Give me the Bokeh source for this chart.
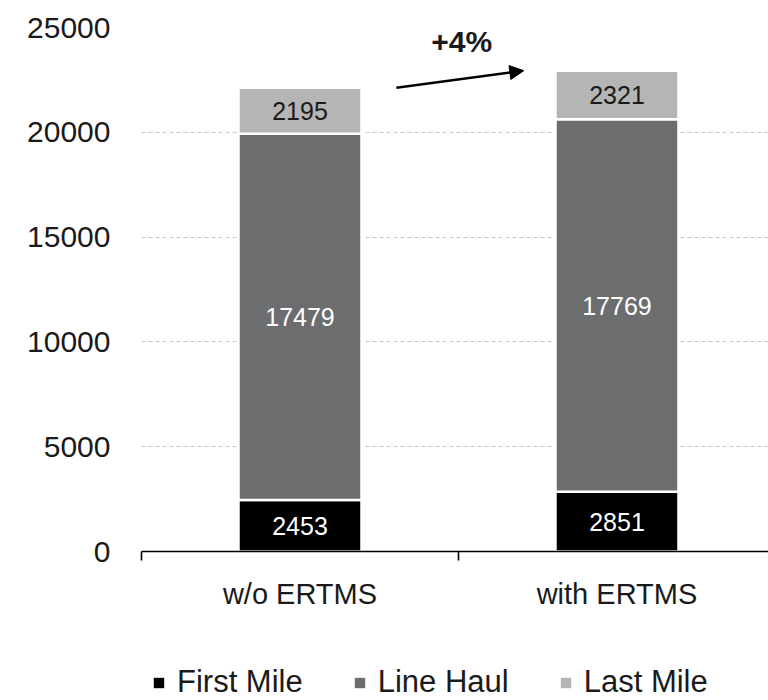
from bokeh.plotting import figure
from bokeh.layouts import column
from bokeh.models import (ColumnDataSource, FixedTicker, Range1d, Legend, LegendItem,
                          Arrow, NormalHead, Label)
from bokeh.core.properties import value
from bokeh.embed import file_html
from bokeh.resources import INLINE

# ---- data ----
categories = ["w/o ERTMS", "with ERTMS"]
first_mile = [2453, 2851]
line_haul = [17479, 17769]
last_mile = [2195, 2321]
series_names = ["First Mile", "Line Haul", "Last Mile"]
y_ticks = [0, 5000, 10000, 15000, 20000, 25000]

colors = ["#000000", "#6c6d6f", "#b5b5b5"]
label_colors = ["white", "white", "#1a1a1a"]
FONT = "Liberation Sans"

xs = list(range(len(categories)))
totals = [a + b + c for a, b, c in zip(first_mile, line_haul, last_mile)]

src = ColumnDataSource(dict(x=xs, first=first_mile, line=line_haul, last=last_mile))

p = figure(width=768, height=650, output_backend="svg", toolbar_location=None,
           x_range=Range1d(-0.5, 1.478), y_range=Range1d(0, 25000),
           min_border_left=141, min_border_right=0, min_border_top=27,
           min_border_bottom=99)
p.outline_line_color = None
p.background_fill_color = "white"
p.border_fill_color = "white"

bar_w = 0.388
rends = p.vbar_stack(["first", "line", "last"], x="x", width=bar_w, color=colors,
                     line_color="white", line_width=2.5, source=src)

# value labels centered in each segment
lx, ly, lt, lc = [], [], [], []
for i in xs:
    bottom = 0
    for s, vals in enumerate([first_mile, line_haul, last_mile]):
        v = vals[i]
        lx.append(i)
        ly.append(bottom + v / 2)
        lt.append(str(v))
        lc.append(label_colors[s])
        bottom += v
p.text(x=lx, y=ly, text=lt, text_color=lc, text_align="center", text_baseline="middle",
       text_font=value(FONT), text_font_size="25px")

# arrow between totals
arrow = Arrow(end=NormalHead(size=14, fill_color="black", line_color="black"),
              x_start=xs[0] + bar_w / 2 + 0.11, y_start=totals[0],
              x_end=xs[1] - bar_w / 2 - 0.10, y_end=totals[1],
              line_width=2.5, line_color="black")
p.add_layout(arrow)
pct = (totals[1] / totals[0] - 1) * 100
p.add_layout(Label(x=(xs[0] + xs[1]) / 2 + 0.01, y=max(totals) + 1400, text=f"+{pct:.0f}%",
                   text_font=FONT, text_font_size="30px", text_font_style="bold",
                   text_align="center", text_baseline="middle", text_color="#1a1a1a"))

# axes
p.yaxis.ticker = FixedTicker(ticks=y_ticks)
p.yaxis.axis_line_color = None
p.yaxis.major_tick_line_color = None
p.yaxis.minor_tick_line_color = None
p.yaxis.major_tick_out = 0
p.yaxis.major_tick_in = 0
p.yaxis.major_label_standoff = 31
p.yaxis.major_label_text_font = FONT
p.yaxis.major_label_text_font_size = "30px"
p.yaxis.major_label_text_color = "#1a1a1a"

p.xaxis.ticker = FixedTicker(ticks=xs, minor_ticks=[-0.5, 0.5, 1.5])
p.xaxis.major_label_overrides = {i: c for i, c in zip(xs, categories)}
p.xaxis.axis_line_color = "black"
p.xaxis.axis_line_width = 1.6
p.xaxis.major_tick_line_color = None
p.xaxis.major_tick_out = 9
p.xaxis.major_tick_in = 0
p.xaxis.minor_tick_line_color = "black"
p.xaxis.minor_tick_line_width = 1.6
p.xaxis.minor_tick_out = 9
p.xaxis.minor_tick_in = 0
p.xaxis.major_label_standoff = 17
p.xaxis.major_label_text_font = FONT
p.xaxis.major_label_text_font_size = "29px"
p.xaxis.major_label_text_color = "#1a1a1a"

p.xgrid.grid_line_color = None
p.ygrid.grid_line_color = "#c8c8c8"
p.ygrid.grid_line_dash = "4 3"
p.ygrid.grid_line_width = 1

# ---- legend strip (separate figure below the chart; its frame aligns with the chart's) ----
lg = figure(width=768, height=50, output_backend="svg", toolbar_location=None,
            x_range=Range1d(0, 1), y_range=Range1d(0, 1),
            x_axis_location=None, y_axis_location=None,
            min_border_left=0, min_border_right=0, min_border_top=0, min_border_bottom=0)
lg.outline_line_color = None
lg.xgrid.grid_line_color = None
lg.ygrid.grid_line_color = None
# zero-size proxy glyphs that only provide the legend swatches
lg_rends = [lg.rect(x=[0.5], y=[0.5], width=0, height=0, fill_color=c, line_color=None)
            for c in colors]
legend = Legend(items=[LegendItem(label=n, renderers=[r]) for n, r in zip(series_names, lg_rends)],
                orientation="horizontal", location=(11, 0),
                glyph_width=13, glyph_height=13, label_standoff=12, spacing=50,
                padding=0, margin=0, border_line_color=None, background_fill_alpha=0,
                label_text_font=FONT, label_text_font_size="31px", label_text_color="#1a1a1a")
lg.add_layout(legend, "center")

layout = column(p, lg, spacing=0)
open("out.html", "w").write(file_html(layout, INLINE))
